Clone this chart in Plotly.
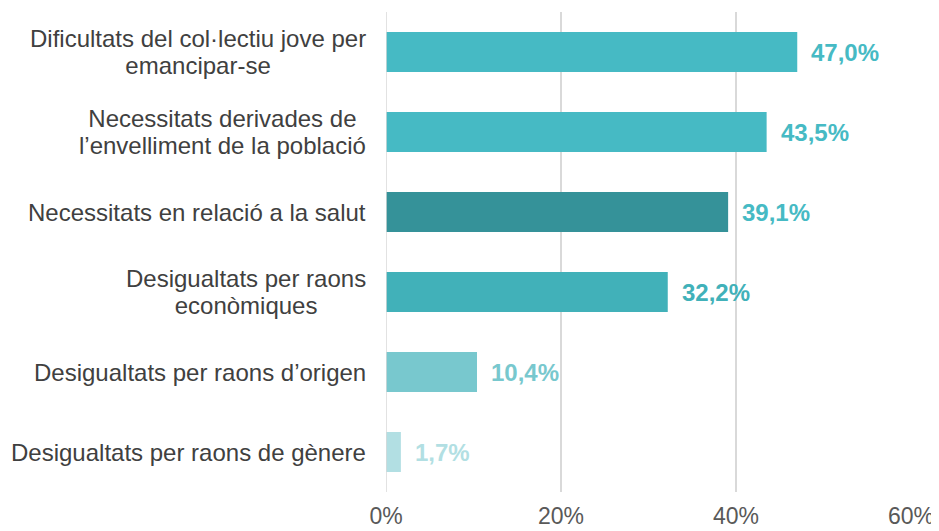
import plotly.graph_objects as go

categories = [
    "Dificultats del col·lectiu jove per<br>emancipar-se",
    "Necessitats derivades de<br>l’envelliment de la població",
    "Necessitats en relació a la salut",
    "Desigualtats per raons<br>econòmiques",
    "Desigualtats per raons d’origen",
    "Desigualtats per raons de gènere",
]
values = [47.0, 43.5, 39.1, 32.2, 10.4, 1.7]
value_labels = ["47,0%", "43,5%", "39,1%", "32,2%", "10,4%", "1,7%"]
bar_colors = ["#46BAC4", "#46BAC4", "#359299", "#41B1B9", "#78C8CE", "#B2DFE3"]
label_colors = ["#46BAC4", "#46BAC4", "#46BAC4", "#41B1B9", "#78C8CE", "#B2DFE3"]
x_ticks = [0, 20, 40, 60]
x_ticklabels = ["0%", "20%", "40%", "60%"]

FONT = "Liberation Sans, Arial"

fig = go.Figure()
fig.add_trace(go.Bar(
    x=values, y=categories, orientation="h",
    marker=dict(color=bar_colors, line=dict(width=0)),
    width=0.5, hoverinfo="skip",
))

# value labels right of bars
for cat, v, lab, col in zip(categories, values, value_labels, label_colors):
    fig.add_annotation(x=v, y=cat, text="<b>" + lab + "</b>", showarrow=False,
                       xanchor="left", xshift=12,
                       font=dict(family=FONT, size=24, color=col))

# category labels, centred lines; smaller base font keeps the line spacing tight
for cat in categories:
    txt = "<br>".join("<span style='font-size:24px'>" + s + "</span>" for s in cat.split("<br>"))
    fig.add_annotation(x=0, xref="paper", y=cat, text=txt, showarrow=False,
                       xanchor="right", align="center", xshift=-18,
                       font=dict(family=FONT, size=21, color="#404040"))

fig.update_xaxes(range=[0, 60], tickvals=x_ticks, ticktext=x_ticklabels,
                 showgrid=True, gridcolor="#D9D9D9", gridwidth=1.5,
                 zeroline=False, showline=False, ticks="", ticklabelstandoff=8,
                 tickfont=dict(family=FONT, size=23, color="#595959"))
fig.update_yaxes(autorange="reversed", showticklabels=False, showgrid=False,
                 zeroline=False, showline=False)
fig.add_vline(x=0, line_color="#D9D9D9", line_width=1.5)

# page body adds 8px, so margins are shifted to compensate
fig.update_layout(width=939, height=531, showlegend=False,
                  margin=dict(l=378, r=36, t=4, b=47),
                  plot_bgcolor="white", paper_bgcolor="white")

fig.write_html("out.html")
